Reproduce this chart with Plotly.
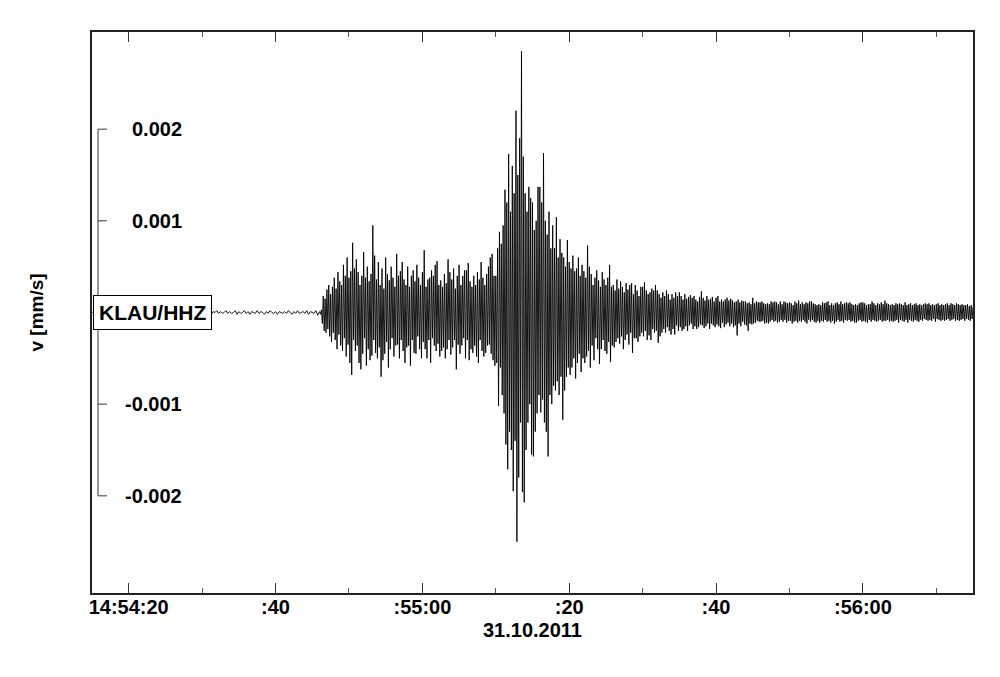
import plotly.graph_objects as go

# ---- data -------------------------------------------------------------
station_label = "KLAU/HHZ"
date_label = "31.10.2011"

# Times are seconds after 14:54:00.
noise_start, noise_dt = 15.0, 0.25          # 4 samples per second
noise_pre = [
    1, -1, 2, 0,  -2, 1, -1, 2,  0, -1, 1, -2,  2, 0, -1, 1,  -1, 2, -2, 1,
    0, -2, 2, -1,  1, 3, 0, 2,  -1, 1, 3, 1,  2, -1, 1, -2,  0, 2, -1, 1,
    -2, 0, 1, -1,  2, -1, 0, 1,  -1, 1, -2, 0,  1, -1, 2, -1,  0, 1, -1, 2,
    -2, 1, 0, -1,  1, -2, 1, 0,  2, -1, 1, -1,  0, 2, -1, 1,  -1, 0, 2, -2,
    1, -1, 0, 2,  -1, 1, -2, 1,  0, -1, 2, -1,  1, 0, -2, 1,  -1, 2, 0, -1,
    1, -2, 1, 0,  -1, 1, -1, 2,  0, -2, 1, -1,  2, -1, 0, 1,  -1, 2, -2, 1,
    0, -1, 2, -3,
]

event_start, event_dt = 46.0, 0.125         # 8 samples per second
p_phase = [
    1, -2, 3, -12, 18, -20, 15, -22,
    25, -18, 30, -26, 20, -32, 28, -22,
    38, -30, 26, -40, 44, -24, 34, -36,
    30, -42, 52, -28, 40, -48, 60, -35,
    38, -55, 45, -68, 76, -30, 48, -42,
    58, -36, 44, -55, 30, -62, 40, -45,
    66, -28, 38, -58, 50, -40, 34, -52,
    42, -47, 95, -30, 62, -44, 36, -50,
    55, -38, 30, -70, 48, -52, 26, -45,
    60, -32, 42, -60, 35, -40, 50, -28,
    38, -48, 28, -36, 64, -35, 40, -50,
    45, -30, 55, -42, 36, -55, 30, -38,
    50, -36, 28, -58, 40, -30, 46, -44,
    34, -45, 52, -26, 38, -40, 30, -50,
    44, -32, 68, -40, 28, -50, 36, -30,
    38, -55, 46, -28, 40, -36, 52, -42,
    56, -34, 30, -48, 35, -42, 28, -38,
    42, -50, 32, -40, 58, -30, 44, -46,
    36, -38, 48, -30, 26, -62, 40, -35,
    52, -45, 30, -36, 40, -28, 46, -50,
    46, -30, 54, -52, 34, -40, 28, -44,
    40, -36, 30, -48, 44, -55, 36, -30,
    55, -42, 38, -48, 30, -44, 42, -36,
    50, -35, 60, -45, 64, -52, 40, -58,
]
s_phase = [
    40, -55, 70, -102, 88, -60, 75, -90,
    95, -110, 134, -144, 120, -171, 173, -130,
    110, -150, 160, -195, 130, -140, 220, -250,
    150, -180, 190, -120, 285, -196, 170, -207,
    130, -150, 110, -120, 137, -100, 125, -155,
    120, -157, 90, -130, 100, -110, 137, -90,
    137, -109, 120, -95, 174, -120, 100, -130,
    85, -157, 110, -90, 70, -100, 95, -80,
    70, -85, 104, -75, 60, -90, 80, -70,
    65, -117, 60, -85, 50, -70, 79, -60,
    55, -68, 48, -60, 62, -50, 45, -72,
    48, -55, 60, -45, 40, -65, 52, -50,
    45, -55, 38, -48, 73, -42, 50, -60,
]
coda = [
    42, -36, 30, -52, 38, -28, 46, -40,
    35, -56, 28, -40, 44, -30, 36, -42,
    30, -45, 38, -32, 52, -54, 28, -36,
    30, -38, 24, -32, 36, -28, 26, -34,
    34, -26, 28, -40, 22, -30, 32, -24,
    25, -35, 30, -22, 32, -44, 20, -28,
    30, -28, 24, -32, 18, -26, 28, -22,
    28, -26, 33, -20, 24, -30, 20, -25,
    22, -30, 26, -18, 24, -22, 30, -20,
    24, -33, 20, -26, 16, -22, 22, -18,
    18, -22, 24, -16, 20, -20, 14, -24,
    20, -18, 16, -24, 22, -14, 18, -20,
    22, -16, 18, -20, 14, -18, 20, -15,
    15, -20, 17, -14, 19, -12, 16, -18,
    18, -15, 14, -18, 12, -16, 17, -13,
    23, -14, 16, -17, 13, -15, 18, -12,
    14, -18, 15, -12, 17, -14, 12, -16,
    16, -13, 18, -15, 12, -17, 14, -11,
    12, -16, 14, -13, 16, -11, 13, -15,
    15, -12, 13, -16, 11, -14, 12, -25,
    14, -12, 11, -15, 13, -10, 12, -13,
    12, -14, 10, -20, 11, -12, 9, -13,
    16, -12, 10, -11, 12, -9, 11, -10,
    11, -10, 12, -9, 10, -12, 9, -11,
    10, -12, 9, -10, 12, -8, 11, -10,
    12, -9, 11, -11, 9, -10, 12, -8,
    9, -10, 12, -8, 11, -11, 10, -9,
    11, -9, 10, -12, 8, -10, 12, -9,
    10, -11, 13, -9, 9, -10, 11, -8,
    9, -10, 11, -12, 10, -8, 12, -10,
    12, -8, 10, -10, 9, -11, 8, -9,
    9, -11, 8, -9, 11, -10, 10, -8,
    11, -10, 12, -9, 8, -11, 10, -9,
    8, -12, 10, -10, 11, -8, 9, -10,
    12, -9, 9, -11, 10, -8, 11, -9,
    10, -8, 11, -10, 9, -9, 8, -11,
    9, -11, 8, -9, 10, -8, 11, -10,
    11, -9, 10, -10, 8, -11, 9, -8,
    9, -10, 12, -8, 10, -9, 8, -10,
    10, -9, 9, -8, 11, -10, 9, -9,
    13, -9, 10, -8, 9, -10, 8, -9,
    9, -10, 8, -9, 10, -8, 9, -11,
    10, -8, 9, -9, 8, -10, 11, -8,
    8, -11, 9, -8, 10, -9, 8, -10,
    9, -8, 10, -9, 8, -10, 9, -8,
    8, -9, 9, -7, 10, -8, 9, -9,
    10, -8, 8, -9, 9, -7, 8, -10,
    9, -7, 10, -8, 8, -9, 9, -8,
    8, -9, 9, -8, 10, -7, 8, -9,
    10, -8, 9, -7, 8, -9, 10, -8,
    9, -9, 8, -8, 9, -7, 8, -9,
    8, -7, 9, -8, 7, -9, 8, -7,
    6,
]

# Axis ticks
x_tick_vals = [20, 40, 60, 80, 100, 120]
x_tick_text = ["14:54:20", ":40", ":55:00", ":20", ":40", ":56:00"]
x_minor_vals = [30, 50, 70, 90, 110, 130]
x_range = [15, 135]

y_tick_vals = [0.002, 0.001, -0.001, -0.002]
y_tick_text = ["0.002", "0.001", "-0.001", "-0.002"]
y_range = [-0.00306, 0.00306]
y_title = "v [mm/s]"

# ---- build ------------------------------------------------------------
event = p_phase + s_phase + coda
times = [noise_start + i * noise_dt for i in range(len(noise_pre))] + \
        [event_start + i * event_dt for i in range(len(event))]
velocity = [v * 1e-5 for v in noise_pre + event]

BOLD = dict(family="Liberation Sans, Arial, sans-serif", size=20, color="black", weight="bold")

fig = go.Figure()
fig.add_trace(go.Scatter(
    x=times, y=velocity, mode="lines",
    line=dict(color="black", width=0.9),
    hoverinfo="skip", showlegend=False,
))

# plot-area geometry (page offset of the figure inside the html body)
OFF = 8
ml, mr, mt, mb = 84, 35, 24, 92
pw = 1000 - ml - mr

def px_to_paper(page_px):
    return (page_px - OFF - ml) / pw

bracket_x = px_to_paper(98)
bracket_tick_end = px_to_paper(107)
shapes = [dict(type="line", xref="paper", yref="y",
               x0=bracket_x, x1=bracket_x, y0=min(y_tick_vals), y1=max(y_tick_vals),
               line=dict(color="#333", width=1))]
for yv in y_tick_vals:
    shapes.append(dict(type="line", xref="paper", yref="y",
                       x0=bracket_x, x1=bracket_tick_end, y0=yv, y1=yv,
                       line=dict(color="#333", width=1)))

annotations = []
for yv, lab in zip(y_tick_vals, y_tick_text):
    annotations.append(dict(x=px_to_paper(184), y=yv, xref="paper", yref="y",
                            text=lab, showarrow=False, xanchor="right", yanchor="middle",
                            font=BOLD))
annotations.append(dict(x=px_to_paper(93), y=0, xref="paper", yref="y",
                        text=station_label, showarrow=False, xanchor="left", yanchor="middle",
                        font=dict(BOLD, size=21), bgcolor="white", bordercolor="black",
                        borderwidth=1, borderpad=5))
annotations.append(dict(x=px_to_paper(36), y=0, xref="paper", yref="y",
                        text=y_title, showarrow=False, textangle=-90,
                        xanchor="center", yanchor="middle", font=dict(BOLD, size=19)))

fig.update_layout(
    width=1000, height=677,
    margin=dict(l=ml, r=mr, t=mt, b=mb, autoexpand=False),
    paper_bgcolor="white", plot_bgcolor="white",
    shapes=shapes, annotations=annotations,
    xaxis=dict(
        range=x_range, tickmode="array", tickvals=x_tick_vals, ticktext=x_tick_text,
        ticks="inside", ticklen=10, tickwidth=1, tickcolor="#333",
        minor=dict(tickmode="array", tickvals=x_minor_vals, ticks="inside",
                   ticklen=5, tickwidth=1, tickcolor="#555", showgrid=False),
        showline=True, linecolor="#222", linewidth=1.5, mirror="allticks",
        showgrid=False, zeroline=False, tickfont=BOLD, ticklabelstandoff=-5,
        title=dict(text=date_label, font=BOLD, standoff=6),
    ),
    yaxis=dict(
        range=y_range, showline=True, linecolor="#222", linewidth=1.5, mirror=True,
        showgrid=False, zeroline=False, showticklabels=False, ticks="",
    ),
)

fig.write_html("out.html")
